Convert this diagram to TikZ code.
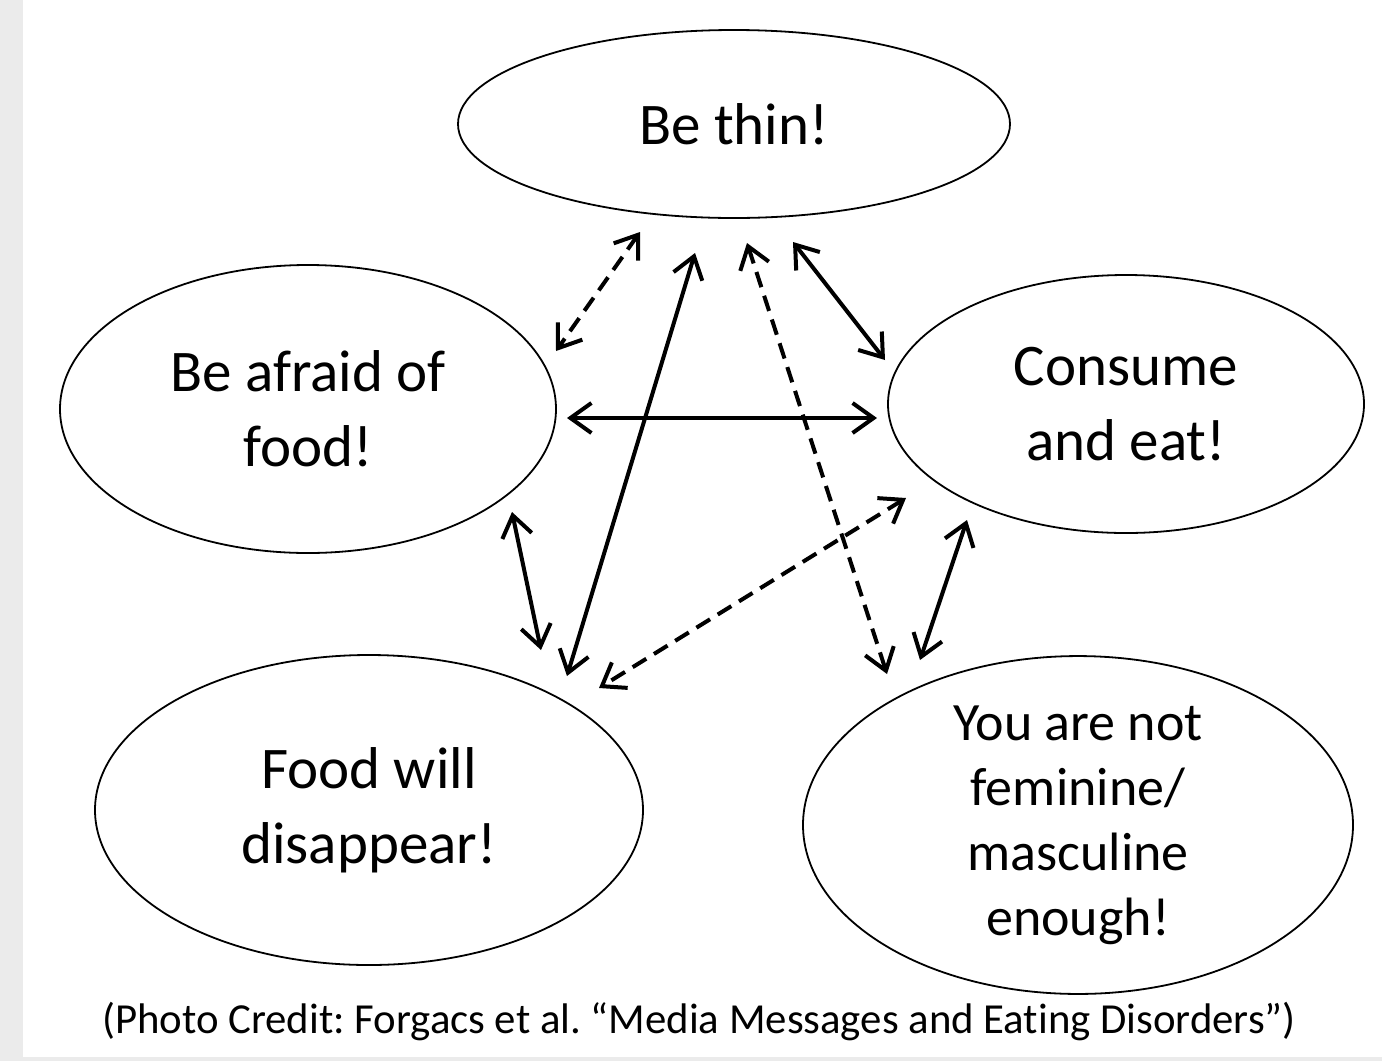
\documentclass[tikz,border=0pt]{standalone}
\usepackage{fontspec}
\setmainfont{Carlito}[Ligatures=NoCommon]
\usetikzlibrary{arrows.meta}
\usetikzlibrary{shapes.geometric}

\definecolor{stripgray}{RGB}{235,235,235}
\frenchspacing

\begin{document}
\begin{tikzpicture}[x=0.5pt,y=-0.5pt,
    bubble/.style={draw,ellipse,line width=0.9pt,inner sep=0pt,align=center,
      font=\fontsize{29.5}{37.5}\selectfont},
    link/.style={line width=2pt,{Straight Barb[length=10.5pt,width=15pt]}-{Straight Barb[length=10.5pt,width=15pt]}},
    dlink/.style={link,dash pattern=on 8pt off 4.5pt}]

		\useasboundingbox (0,0) rectangle (1382,1061);
		\fill[stripgray] (0,0) rectangle (23,1061);
		\fill[stripgray] (0,1057) rectangle (1382,1061);

		\node[bubble,minimum width=276pt,minimum height=94pt] (thin) at (734,124) {Be thin!};
		\node[bubble,minimum width=248pt,minimum height=144pt] (afraid) at (308,409) {Be afraid of\\food!};
		\node[bubble,minimum width=238pt,minimum height=129pt] (eat) at (1126,404) {Consume\\and eat!};
		\node[bubble,minimum width=274pt,minimum height=155pt] (vanish) at (369,810) {Food will\\disappear!};
		\node[bubble,minimum width=275pt,minimum height=160pt,
		  font=\fontsize{27}{32.5}\selectfont] (gender) at (1078,825) {You are not\\feminine/\\masculine\\enough!};

		\node (credit) at (699,1022) [font=\fontsize{21.4}{25}\selectfont]
		  {(Photo Credit: Forgacs et al. “Media Messages and Eating Disorders”)};

		\coordinate (a1) at (640,232) ;
		\coordinate (a2) at (556,351) ;
		\coordinate (b1) at (695,253) ;
		\coordinate (b2) at (567,676) ;
		\coordinate (c1) at (747,243) ;
		\coordinate (c2) at (887,674) ;
		\coordinate (d1) at (793,242) ;
		\coordinate (d2) at (885,360) ;
		\coordinate (e1) at (567,418) ;
		\coordinate (e2) at (877,418) ;
		\coordinate (f1) at (906,498) ;
		\coordinate (f2) at (599,688) ;
		\coordinate (g1) at (512,512) ;
		\coordinate (g2) at (541,650) ;
		\coordinate (h1) at (967,520) ;
		\coordinate (h2) at (920,660) ;

		\draw[dlink] (a1)--(a2);
		\draw[link] (b1)--(b2);
		\draw[dlink] (c1)--(c2);
		\draw[link] (d1)--(d2);
		\draw[link] (e1)--(e2);
		\draw[dlink] (f1)--(f2);
		\draw[link] (g1)--(g2);
		\draw[link] (h1)--(h2);
\end{tikzpicture}
\end{document}
